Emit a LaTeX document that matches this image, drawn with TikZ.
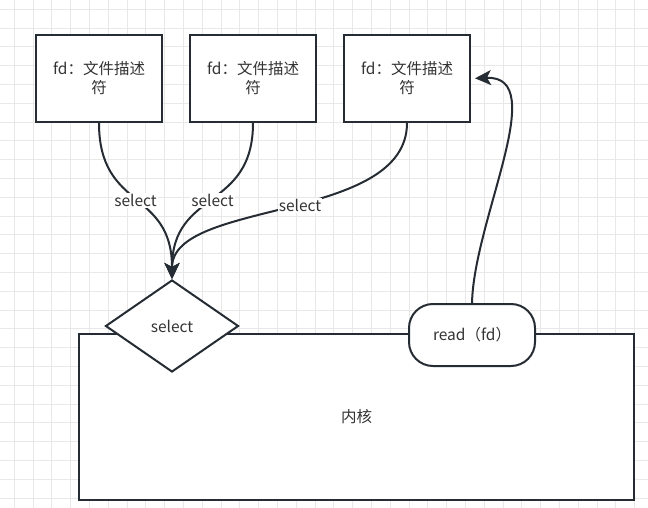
\documentclass[tikz,border=0pt]{standalone}
\usepackage{fontspec}
\setmainfont{Noto Sans CJK SC}
\usetikzlibrary{shapes.geometric,arrows.meta}
\definecolor{boxc}{HTML}{262C33}
\definecolor{textc}{HTML}{333333}
\definecolor{gridc}{HTML}{E8E8E8}
\begin{document}
\begin{tikzpicture}[x=1pt,y=-1pt,
  gridline/.style={draw=gridc,line width=0.9pt},
  fdbox/.style={draw=boxc,line width=2pt,fill=white,minimum width=126pt,minimum height=87pt,inner sep=0pt,align=center,text=textc,font=\fontsize{15.5}{19}\selectfont},
  kern/.style={draw=boxc,line width=2pt,fill=white,minimum width=555pt,minimum height=166pt,inner sep=0pt,text=textc,font=\fontsize{15.5}{19}\selectfont},
  selnode/.style={diamond,draw=boxc,line width=2pt,fill=white,minimum width=133pt,minimum height=92pt,inner sep=0pt,text=textc,font=\fontsize{15.5}{19}\selectfont},
  readnode/.style={draw=boxc,line width=2pt,fill=white,rounded corners=24pt,minimum width=126pt,minimum height=62pt,inner sep=0pt,text=textc,font=\fontsize{15.5}{19}\selectfont},
  edge/.style={draw=boxc,line width=2pt,-{Stealth[length=16pt,width=15pt,inset=4pt]}},
  lbl/.style={fill=white,inner sep=1pt,text=textc,font=\fontsize{15.5}{19}\selectfont}
]
\useasboundingbox (0,0) rectangle (648,508);
\clip (0,0) rectangle (648,508);
\foreach \i in {0,...,34} { \draw[gridline] ({14.3+18.8*\i},0) -- ({14.3+18.8*\i},508); }
\foreach \j in {0,...,27} { \draw[gridline] (0,{9.3+18.8*\j}) -- (648,{9.3+18.8*\j}); }

\node[fdbox] (b1) at (99,78.5) {fd：文件描述\\符};
\node[fdbox] (b2) at (253,78.5) {fd：文件描述\\符};
\node[fdbox] (b3) at (407,78.5) {fd：文件描述\\符};

\node[kern] (k) at (356.5,417) {内核};
\node[selnode] (sel) at (172,326) {select};
\node[readnode] (rd) at (472,335) {read（fd）};

\draw[edge] (b1.south) .. controls +(0,88) and +(0,-90) .. (sel.north) node[lbl,pos=0.5] {select};
\draw[edge] (b2.south) .. controls +(0,88) and +(0,-90) .. (sel.north) node[lbl,pos=0.5] {select};
\draw[edge] (b3.south) .. controls +(0,100) and +(0,-80) .. (sel.north) node[lbl,pos=0.47] {select};
\draw[edge,shorten >=4pt] (rd.north) .. controls +(2,-84) and +(80,-3.5) .. (b3.east);
\end{tikzpicture}
\end{document}
